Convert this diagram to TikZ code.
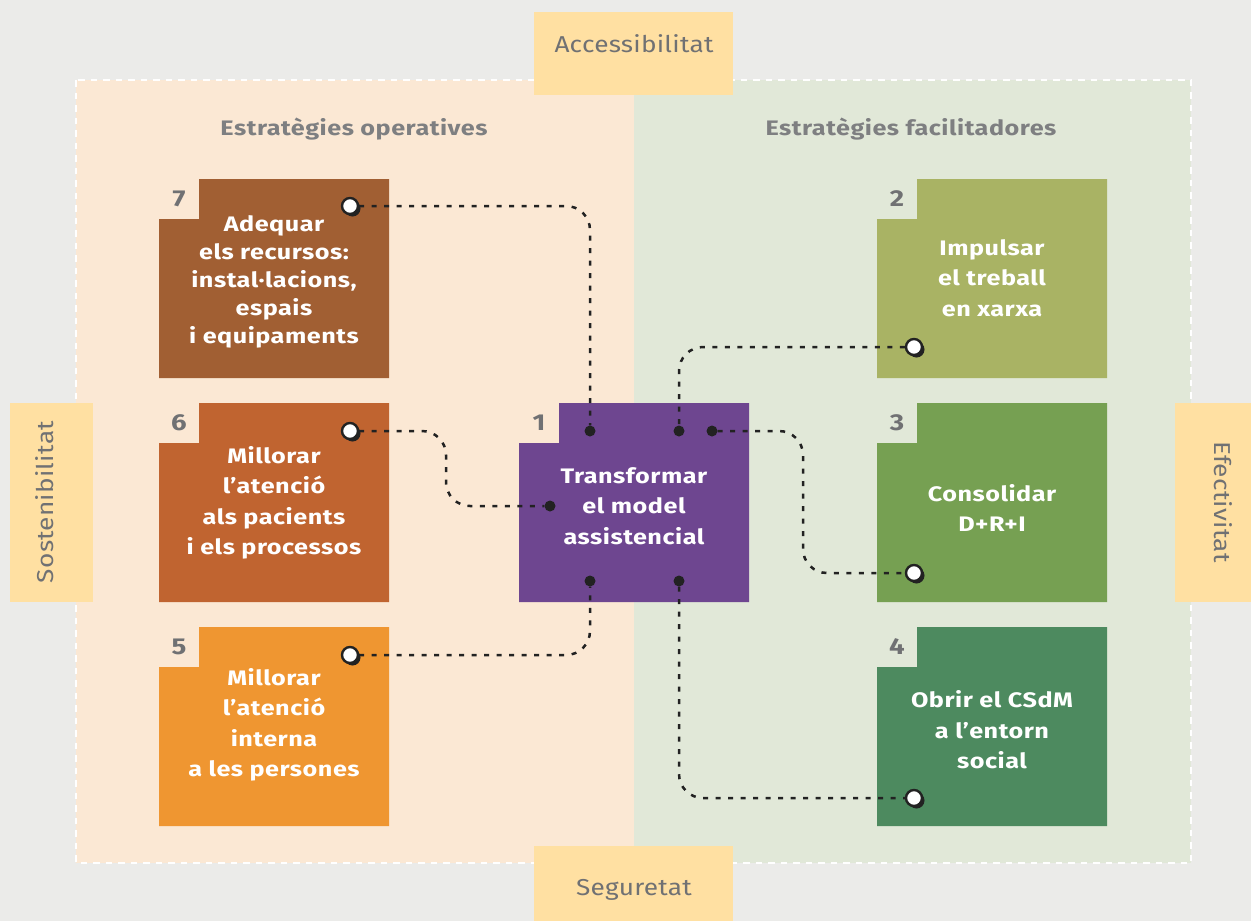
\documentclass[tikz,border=0pt]{standalone}
\usepackage{fontspec}
\setmainfont{Fira Sans}
\newfontfamily\widefont{Fira Sans}[FakeStretch=1.2,LetterSpace=2.5]
\newfontfamily\sidefont{Fira Sans}[FakeStretch=1.14,LetterSpace=1]
\usetikzlibrary{shadows}

\definecolor{bgray}{HTML}{EBEBE9}
\definecolor{peach}{HTML}{FBE8D4}
\definecolor{sage}{HTML}{E1E8D8}
\definecolor{labelfill}{HTML}{FFE0A2}
\definecolor{txtgray}{HTML}{707173}
\definecolor{cseven}{HTML}{A15F33}
\definecolor{csix}{HTML}{C06430}
\definecolor{cfive}{HTML}{EF9631}
\definecolor{cone}{HTML}{6E4690}
\definecolor{ctwo}{HTML}{A9B364}
\definecolor{cthree}{HTML}{76A052}
\definecolor{cfour}{HTML}{4D8A5F}
\definecolor{ink}{HTML}{222222}

% filled box with a square notch cut out of its top-left corner
\newcommand\notchbox[2]{%
  \fill[#2] ([xshift=40pt]#1.north west) -- (#1.north east) -- (#1.south east)
    -- (#1.south west) -- ([yshift=-40pt]#1.north west)
    -- ([xshift=40pt,yshift=-40pt]#1.north west) -- cycle;}

\begin{document}
\begin{tikzpicture}[x=1pt,y=-1pt,
  boxframe/.style={rectangle,minimum width=230pt,minimum height=199pt,inner sep=0pt,outer sep=0pt},
  boxtext/.style={text=white,font=\widefont\fontsize{21}{30.5}\selectfont\bfseries,align=center},
  numtext/.style={text=txtgray,font=\widefont\fontsize{23}{26}\selectfont\bfseries},
  headtext/.style={text=txtgray!90,font=\widefont\fontsize{21}{26}\selectfont\bfseries},
  sidetext/.style={text=txtgray,font=\sidefont\fontsize{23}{26}\selectfont},
  port/.style={circle,minimum size=16pt,inner sep=0pt,fill=white,draw=ink,line width=2.4pt,
    drop shadow={shadow xshift=2.5pt,shadow yshift=-2.5pt,fill=ink,opacity=1}},
  hub/.style={circle,minimum size=11pt,inner sep=0pt,fill=ink},
  link/.style={draw=ink,line width=2.5pt,dash pattern=on 5pt off 7.5pt,rounded corners=24pt},
]
\useasboundingbox (0,0) rectangle (1251,921);
\fill[bgray] (0,0) rectangle (1251,921);

% two panels and their dashed frame
\fill[peach] (76,80) rectangle (634,863);
\fill[sage] (634,80) rectangle (1191,863);
\draw[white,line width=2.7pt,dash pattern=on 6.5pt off 6pt] (76,80) rectangle (1191,863);

% four side labels
\fill[labelfill] (534,12) rectangle (733,95);
\fill[labelfill] (534,846) rectangle (733,921);
\fill[labelfill] (10,403) rectangle (93,602);
\fill[labelfill] (1175,403) rectangle (1251,602);
\node[sidetext] (lacc) at (634,44) {Accessibilitat};
\node[sidetext] (lseg) at (634,890) {Seguretat};
\node[sidetext,rotate=90] (lsos) at (45,502) {Sostenibilitat};
\node[sidetext,rotate=-90] (lefe) at (1223,502) {Efectivitat};

% panel headings
\node[headtext] (hop) at (354,129) {Estratègies operatives};
\node[headtext] (hfa) at (911,129) {Estratègies facilitadores};

% strategy boxes
\node[boxframe] (b7) at (274,278.5) {};
\node[boxframe] (b6) at (274,502.5) {};
\node[boxframe] (b5) at (274,726.5) {};
\node[boxframe] (b1) at (634,502.5) {};
\node[boxframe] (b2) at (992,278.5) {};
\node[boxframe] (b3) at (992,502.5) {};
\node[boxframe] (b4) at (992,726.5) {};
\notchbox{b7}{cseven}
\notchbox{b6}{csix}
\notchbox{b5}{cfive}
\notchbox{b1}{cone}
\notchbox{b2}{ctwo}
\notchbox{b3}{cthree}
\notchbox{b4}{cfour}

\foreach \b/\n in {b7/7,b6/6,b5/5,b1/1,b2/2,b3/3,b4/4}
  \node[numtext] (n\n) at ([xshift=20pt,yshift=-20pt]\b.north west) {\n};

\node[boxtext,font=\widefont\fontsize{21}{28}\selectfont\bfseries] (t7) at (274,282)
  {Adequar\\els recursos:\\instal·lacions,\\espais\\i equipaments};
\node[boxtext] (t6) at (274,503) {Millorar\\l’atenció\\als pacients\\i els processos};
\node[boxtext] (t5) at (274,725) {Millorar\\l’atenció\\interna\\a les persones};
\node[boxtext] (t1) at (634,506) {Transformar\\el model\\assistencial};
\node[boxtext] (t2) at (992,278) {Impulsar\\el treball\\en xarxa};
\node[boxtext] (t3) at (992,508) {Consolidar\\D+R+I};
\node[boxtext] (t4) at (992,730) {Obrir el CSdM\\a l’entorn\\social};

% connection points
\node[port] (p7) at (350,206) {};
\node[port] (p6) at (350,431) {};
\node[port] (p5) at (350,655) {};
\node[port] (p2) at (914,347) {};
\node[port] (p3) at (914,573) {};
\node[port] (p4) at (914,798) {};
\node[hub] (h7) at (590,431) {};
\node[hub] (h2) at (679,431) {};
\node[hub] (h3) at (712,431) {};
\node[hub] (h6) at (550,506) {};
\node[hub] (h5) at (590,581) {};
\node[hub] (h4) at (679,581) {};
\coordinate (k6) at (446,431);
\coordinate (k3) at (803,431);

% dotted connectors
\draw[link] (p7) -| (h7);
\draw[link] (p2) -| (h2);
\draw[link] (h3) -- (k3) |- (p3);
\draw[link] (p6) -- (k6) |- (h6);
\draw[link] (p5) -| (h5);
\draw[link] (h4) |- (p4);
\end{tikzpicture}
\end{document}
